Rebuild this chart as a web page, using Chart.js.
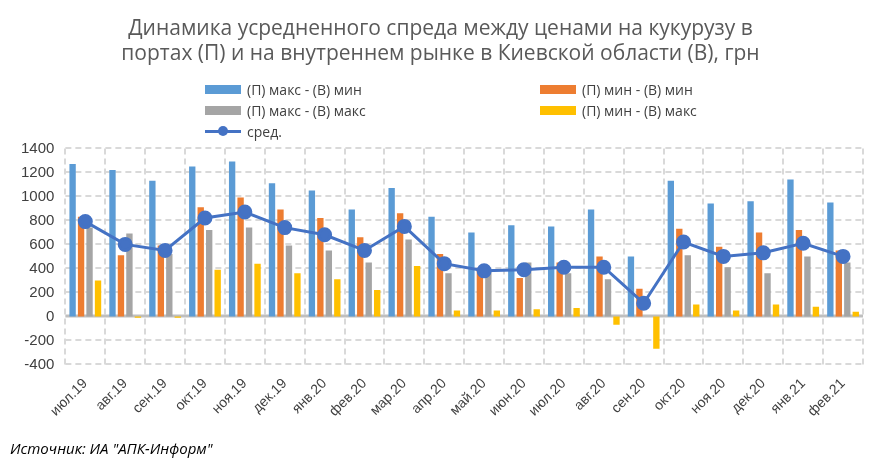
<!DOCTYPE html>
<html>
<head>
<meta charset="utf-8">
<script src="https://cdn.jsdelivr.net/npm/chart.js@4"></script>
<style>
  body { margin: 0; background: #fff; font-family: "Open Sans", sans-serif; }
  #wrap { position: relative; width: 885px; height: 473px; }
  #legend { position: absolute; left: 205px; top: 80px; display: grid; grid-template-columns: 335px 200px; row-gap: 2px; font-size: 14px; color: #404040; }
  .item { display: flex; align-items: center; height: 19px; }
  .sw { width: 36px; height: 9px; margin-right: 6px; }
  .line { width: 36px; height: 3px; background: #4472c4; margin-right: 6px; position: relative; }
  .line::after { content: ''; position: absolute; left: 13px; top: -4px; width: 10px; height: 10px; border-radius: 50%; background: #4472c4; }
  #source { position: absolute; left: 10px; top: 438px; font-style: italic; font-size: 15px; color: #000; }
</style>
</head>
<body>
<div id="wrap">
  <canvas id="chart" width="885" height="473"></canvas>
  <div id="legend">
    <div class="item"><span class="sw" style="background:#5b9bd5"></span>(П) макс - (В) мин</div>
    <div class="item"><span class="sw" style="background:#ed7d31"></span>(П) мин - (В) мин</div>
    <div class="item"><span class="sw" style="background:#a5a5a5"></span>(П) макс - (В) макс</div>
    <div class="item"><span class="sw" style="background:#ffc000"></span>(П) мин - (В) макс</div>
    <div class="item"><span class="line"></span>сред.</div>
  </div>
  <div id="source">Источник: ИА "АПК-Информ"</div>
</div>
<script>
const labels = ['июл.19','авг.19','сен.19','окт.19','ноя.19','дек.19','янв.20','фев.20','мар.20','апр.20',
                'май.20','июн.20','июл.20','авг.20','сен.20','окт.20','ноя.20','дек.20','янв.21','фев.21'];
const maxMin = [1270,1220,1130,1250,1290,1110,1050,890,1070,830,700,760,750,890,500,1130,940,960,1140,950];
const minMin = [830,510,590,910,990,890,820,660,860,520,400,320,450,500,230,730,580,700,720,550];
const maxMax = [740,690,520,720,740,590,550,450,640,360,380,450,360,310,0,510,410,360,500,450];
const minMax = [300,-10,-10,390,440,360,310,220,420,50,50,60,70,-70,-270,100,50,100,80,40];
const avg = [790,600,550,820,870,740,680,550,750,440,380,390,410,410,110,620,500,530,610,500];

const bar = (label, data, color) => ({
    type: 'bar', label: label, data: data, backgroundColor: color,
    barPercentage: 0.75, categoryPercentage: 0.85, order: 2
});

// dashed grid drawn by hand on the scale ticks (library grid stays off)
const dashedGrid = {
    id: 'dashedGrid',
    beforeDatasetsDraw(chart) {
        const { ctx, chartArea: a, scales: { x, y } } = chart;
        ctx.save();
        ctx.strokeStyle = '#d9d9d9';
        ctx.lineWidth = 2;
        ctx.setLineDash([6, 4]);
        y.ticks.forEach((t) => {
            if (t.value === 0) return;
            const py = Math.round(y.getPixelForValue(t.value));
            ctx.beginPath(); ctx.moveTo(a.left, py); ctx.lineTo(a.right, py); ctx.stroke();
        });
        for (let i = 0; i <= x.ticks.length; i++) {
            const px = Math.round(x.left + (x.width / x.ticks.length) * i);
            ctx.beginPath(); ctx.moveTo(px, a.top); ctx.lineTo(px, a.bottom); ctx.stroke();
        }
        ctx.setLineDash([]);
        ctx.strokeStyle = '#bfbfbf';
        ctx.lineWidth = 3;
        const zy = Math.round(y.getPixelForValue(0));
        ctx.beginPath(); ctx.moveTo(a.left, zy); ctx.lineTo(a.right, zy); ctx.stroke();
        ctx.restore();
    }
};

new Chart(document.getElementById('chart'), {
    data: {
        labels: labels,
        datasets: [
            {
                type: 'line', label: 'сред.', data: avg, borderColor: '#4472c4',
                backgroundColor: '#4472c4', borderWidth: 3, pointRadius: 6, pointHoverRadius: 6, order: 1
            },
            bar('(П) макс - (В) мин', maxMin, '#5b9bd5'),
            bar('(П) мин - (В) мин', minMin, '#ed7d31'),
            bar('(П) макс - (В) макс', maxMax, '#a5a5a5'),
            bar('(П) мин - (В) макс', minMax, '#ffc000')
        ]
    },
    options: {
        responsive: false,
        animation: false,
        layout: { padding: { left: 18, right: 22, bottom: 50 } },
        plugins: {
            legend: { display: false },
            tooltip: { enabled: false },
            title: {
                display: true,
                text: ['Динамика усредненного спреда между ценами на кукурузу в', 'портах (П) и на внутреннем рынке в Киевской области (В), грн'],
                color: '#595959',
                font: { size: 21, family: '"Open Sans", sans-serif', weight: 'normal' },
                padding: { top: 16, bottom: 82 }
            }
        },
        scales: {
            x: {
                ticks: { color: '#404040', font: { size: 14 }, maxRotation: 45, minRotation: 45, autoSkip: false },
                grid: { display: false },
                border: { display: false }
            },
            y: {
                min: -400, max: 1400,
                ticks: { stepSize: 200, color: '#404040', font: { size: 15 }, callback: (v) => String(v) },
                grid: { display: false },
                border: { display: false }
            }
        }
    },
    plugins: [dashedGrid]
});
</script>
</body>
</html>
